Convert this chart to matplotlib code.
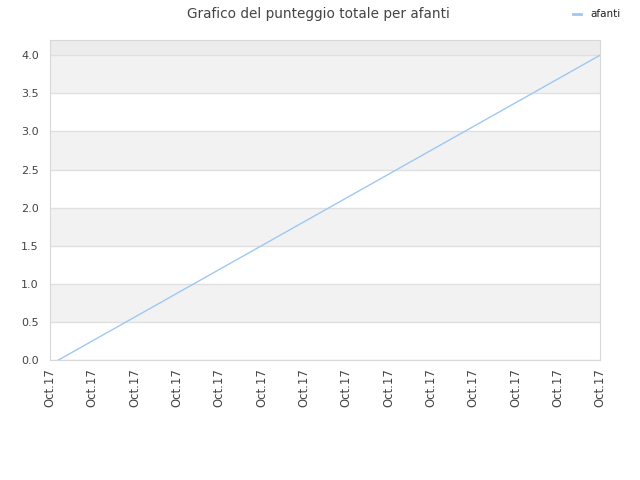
import matplotlib
matplotlib.use("Agg")
import matplotlib.pyplot as plt
import matplotlib.dates as mdates
import numpy as np
from datetime import datetime, timedelta

# Data
player = "afanti"
times = [datetime(2017, 10, 17, 10, 2), datetime(2017, 10, 17, 12, 10)]
scores = [0.0, 4.0]
axis_start = datetime(2017, 10, 17, 10, 0)
n_ticks = 14
tick_step_min = 10
y_max = 4.2

lineColor = "#9ec8f4"
bandColor = "#f2f2f2"
topColor = "#ececec"
gridColor = "#e0e0e0"
textColor = "#444444"

fig = plt.figure(figsize=(6.4, 4.8), dpi=100)
ax = fig.add_axes([50 / 640, 1 - 360 / 480, 550 / 640, 320 / 480])

# alternating bands
for i, lo in enumerate(np.arange(0, 4.0, 0.5)):
    if i % 2 == 1:
        ax.axhspan(lo, lo + 0.5, color=bandColor, lw=0, zorder=0)
ax.axhspan(4.0, y_max, color=topColor, lw=0, zorder=0)

ax.plot(times, scores, color=lineColor, lw=1.0, label=player, zorder=3)

xticks = [axis_start + timedelta(minutes=tick_step_min * i) for i in range(n_ticks)]
ax.set_xlim(xticks[0], xticks[-1])
ax.set_ylim(0, y_max)
ax.set_xticks(xticks)
ax.xaxis.set_major_formatter(mdates.DateFormatter("%b.%d"))
ax.set_yticks(np.arange(0, 4.01, 0.5))
ax.yaxis.set_major_formatter(matplotlib.ticker.FormatStrFormatter("%.1f"))
ax.grid(axis="y", color=gridColor, lw=1, zorder=1)
ax.set_axisbelow(True)
ax.tick_params(axis="x", rotation=90, labelsize=8.4, colors=textColor, length=0, pad=6)
ax.tick_params(axis="y", labelsize=8, colors=textColor, length=0, pad=8)
for s in ax.spines.values():
    s.set_color("#d8d8d8")

fig.suptitle("Grafico del punteggio totale per afanti", fontsize=9.8, color=textColor, x=0.497, y=0.985)
leg = fig.legend(loc="upper right", bbox_to_anchor=(0.985, 1.0), frameon=False, fontsize=7.5,
                 handlelength=0.8, handletextpad=0.9, labelcolor="#222222")
for h in leg.get_lines():
    h.set_linewidth(2)

fig.savefig("out.png", dpi=100, facecolor="white")
